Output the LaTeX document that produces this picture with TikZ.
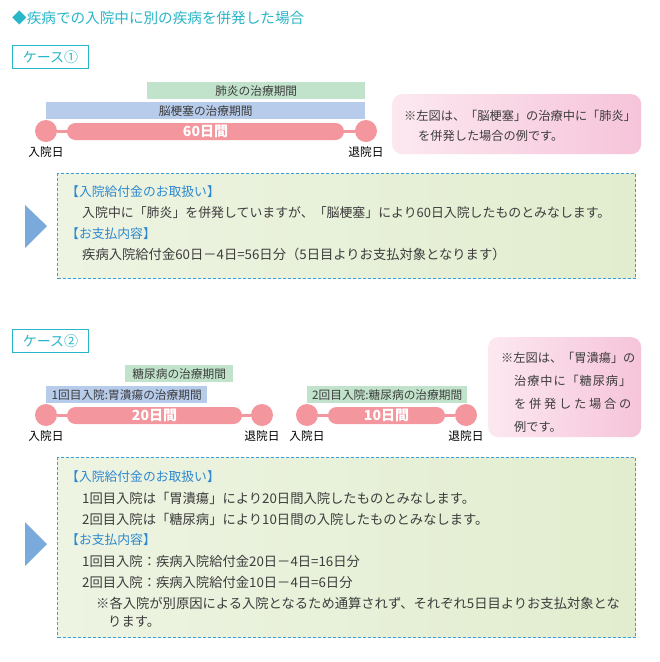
\documentclass[tikz,border=0pt]{standalone}
\usepackage{fontspec}
\setmainfont{Noto Sans CJK JP}
\usetikzlibrary{positioning}
\definecolor{CaseTeal}{RGB}{41, 182, 200}
\definecolor{HeadBlue}{RGB}{46, 136, 207}
\definecolor{BodyGris}{RGB}{60, 60, 60}
\definecolor{BarRose}{RGB}{244, 150, 158}
\definecolor{BarVert}{RGB}{193, 227, 203}
\definecolor{BarBleu}{RGB}{183, 203, 234}
\definecolor{NoteRoseL}{RGB}{252, 232, 240}
\definecolor{NoteRoseR}{RGB}{246, 196, 218}
\definecolor{InfoVertL}{RGB}{237, 244, 226}
\definecolor{InfoVertR}{RGB}{226, 237, 207}
\definecolor{InfoDash}{RGB}{58, 157, 220}
\definecolor{FlecheBleu}{RGB}{122, 170, 220}
\tikzset{
	casebox/.style={draw=CaseTeal, line width=1pt, text=CaseTeal, minimum width=76, minimum height=23, inner sep=0, font=\fontsize{14}{14}\selectfont},
	periodbar/.style={minimum height=17, inner sep=0, text=BodyGris, font=\fontsize{11.7}{11.7}\selectfont},
	dot/.style={circle, fill=BarRose, minimum size=22, inner sep=0},
	link/.style={draw=BarRose, line width=3pt},
	daybar/.style={fill=BarRose, rounded corners=8.5, minimum height=17, inner sep=0, text=white, font=\fontsize{14}{14}\selectfont\bfseries},
	daylabel/.style={inner sep=0, text=black, font=\fontsize{11.7}{11.7}\selectfont},
	notebox/.style={rounded corners=10, left color=NoteRoseL, right color=NoteRoseR, inner sep=0},
	notetext/.style={anchor=west, inner sep=0, text=BodyGris, font=\fontsize{12.2}{12.2}\selectfont},
	infobox/.style={draw=InfoDash, line width=1.2pt, dash pattern=on 3pt off 2pt, left color=InfoVertL, right color=InfoVertR, inner sep=0},
	infohead/.style={anchor=west, inner sep=0, text=HeadBlue, font=\fontsize{12.8}{12.8}\selectfont},
	infotext/.style={anchor=west, inner sep=0, text=BodyGris, font=\fontsize{13.3}{13.3}\selectfont}
}

\begin{document}
\begin{tikzpicture}[x=1pt,y=-1pt]
			\useasboundingbox[fill=white] (0,0) rectangle (660,662);
			\draw (12,18) node[anchor=west, inner sep=0, color=CaseTeal, font=\fontsize{14.6}{14.6}\selectfont] (titre) {◆疾病での入院中に別の疾病を併発した場合};

			% case 1
			\node[casebox, anchor=north west] (case1) at (12,45) {ケース①};
			\node[periodbar, fill=BarVert, minimum width=218, anchor=north west] (pneu) at (147,82) {肺炎の治療期間};
			\node[periodbar, fill=BarBleu, minimum width=319, anchor=north west] (infarct) at (46,102) {脳梗塞の治療期間};
			\node[dot] (in1) at (46,131) {};
			\node[dot] (out1) at (366,131) {};
			\draw[link] (in1) -- (out1);
			\node[daybar, minimum width=277] (len1) at (205.5,131.5) {60日間};
			\node[daylabel, below=4pt of in1] (in1lbl) {入院日};
			\node[daylabel, below=4pt of out1] (out1lbl) {退院日};
			\node[notebox, minimum width=249, minimum height=60, anchor=north west] (note1) at (392,94) {};
			\node[notetext] (note1a) at (404,116) {※左図は、「脳梗塞」の治療中に「肺炎」};
			\node[notetext] (note1b) at (418,136) {を併発した場合の例です。};

			\fill[FlecheBleu] (25,205) -- (47,226) -- (25,248) -- cycle;
			\node[infobox, minimum width=578, minimum height=105, anchor=north west] (info1) at (57,173) {};
			\node[infohead] (info1a) at (66,192) {【入院給付金のお取扱い】};
			\node[infotext, font=\fontsize{12.9}{12.9}\selectfont] (info1b) at (82,213) {入院中に「肺炎」を併発していますが、「脳梗塞」により60日入院したものとみなします。};
			\node[infohead] (info1c) at (66,234) {【お支払内容】};
			\node[infotext] (info1d) at (82,254) {疾病入院給付金60日－4日=56日分（5日目よりお支払対象となります）};

			% case 2
			\node[casebox, anchor=north west] (case2) at (12,329) {ケース②};
			\node[periodbar, fill=BarVert, minimum width=108, anchor=north west] (diab) at (125,365) {糖尿病の治療期間};
			\node[periodbar, fill=BarBleu, minimum width=161, anchor=north west] (ulcer) at (46,386) {1回目入院:胃潰瘍の治療期間};
			\node[periodbar, fill=BarVert, minimum width=160, anchor=north west] (diab2) at (307,386) {2回目入院:糖尿病の治療期間};
			\node[dot] (in2) at (46,415) {};
			\node[dot] (out2) at (262,415) {};
			\draw[link] (in2) -- (out2);
			\node[daybar, minimum width=175] (len2) at (154.5,415.5) {20日間};
			\node[daylabel, below=4pt of in2] (in2lbl) {入院日};
			\node[daylabel, below=4pt of out2] (out2lbl) {退院日};
			\node[dot] (in3) at (307,415) {};
			\node[dot] (out3) at (466,415) {};
			\draw[link] (in3) -- (out3);
			\node[daybar, minimum width=117] (len3) at (386.5,415.5) {10日間};
			\node[daylabel, below=4pt of in3] (in3lbl) {入院日};
			\node[daylabel, below=4pt of out3] (out3lbl) {退院日};
			\node[notebox, minimum width=153, minimum height=100, anchor=north west] (note2) at (488,337) {};
			\node[notetext] (note2a) at (501,358) {※左図は、「胃潰瘍」の};
			\node[notetext] (note2b) at (514,381) {\makebox[117pt][s]{治\hfill 療\hfill 中\hfill に\hfill 「\hfill 糖\hfill 尿\hfill 病\hfill 」}};
			\node[notetext] (note2c) at (514,404) {\makebox[117pt][s]{を\hfill 併\hfill 発\hfill し\hfill た\hfill 場\hfill 合\hfill の}};
			\node[notetext] (note2d) at (514,427) {例です。};

			\fill[FlecheBleu] (25,522) -- (47,544) -- (25,566) -- cycle;
			\node[infobox, minimum width=578, minimum height=180, anchor=north west] (info2) at (57,457) {};
			\node[infohead] (info2a) at (66,477) {【入院給付金のお取扱い】};
			\node[infotext] (info2b) at (82,498) {1回目入院は「胃潰瘍」により20日間入院したものとみなします。};
			\node[infotext] (info2c) at (82,519) {2回目入院は「糖尿病」により10日間の入院したものとみなします。};
			\node[infohead] (info2d) at (66,540) {【お支払内容】};
			\node[infotext] (info2e) at (82,561) {1回目入院：疾病入院給付金20日－4日=16日分};
			\node[infotext] (info2f) at (82,582) {2回目入院：疾病入院給付金10日－4日=6日分};
			\node[infotext] (info2g) at (96,603) {※各入院が別原因による入院となるため通算されず、それぞれ5日目よりお支払対象とな};
			\node[infotext] (info2h) at (108,622) {ります。};
		\end{tikzpicture}
\end{document}
